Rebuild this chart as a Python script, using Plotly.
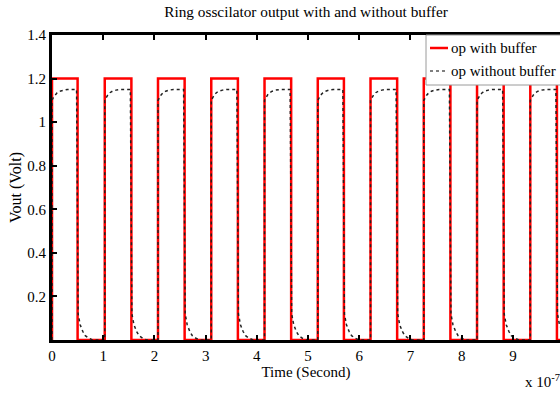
import plotly.graph_objects as go

# ---- data (time in units of 1e-7 s, voltage in V) ----
rise_times = [0.00, 1.03, 2.07, 3.11, 4.15, 5.19, 6.22, 7.26, 8.30, 9.34]
fall_times = [0.50, 1.55, 2.59, 3.63, 4.67, 5.70, 6.74, 7.78, 8.82, 9.86]
high_buffer = 1.2

# shape of one pulse of the unbuffered output (offset from rising edge, volts)
rise_offsets = [0.00, 0.00, 0.03, 0.06, 0.10, 0.15, 0.22, 0.30]
rise_values = [0.00, 1.10, 1.115, 1.125, 1.135, 1.142, 1.147, 1.15]
# shape after falling edge (offset from red falling edge, volts)
fall_offsets = [-0.02, 0.01, 0.05, 0.10, 0.15, 0.22, 0.30]
fall_values = [1.15, 0.12, 0.07, 0.04, 0.02, 0.008, 0.0]

x_ticks = [0, 1, 2, 3, 4, 5, 6, 7, 8, 9]
y_ticks = [0.2, 0.4, 0.6, 0.8, 1.0, 1.2, 1.4]
y_tick_text = ["0.2", "0.4", "0.6", "0.8", "1", "1.2", "1.4"]

# ---- build traces ----
xr, yr = [], []
for r, f in zip(rise_times, fall_times):
    xr += [r, r, f, f]
    yr += [0, high_buffer, high_buffer, 0]
xr.append(9.95)
yr.append(0)

xb, yb = [], []
for r, f in zip(rise_times, fall_times):
    xb += [r + o for o in rise_offsets]
    yb += rise_values
    xb += [f + o for o in fall_offsets]
    yb += fall_values
xb.append(9.95)
yb.append(0)

FONT = "Liberation Serif"

fig = go.Figure()
fig.add_trace(go.Scatter(x=xr, y=yr, mode="lines", name="op with buffer",
                         line=dict(color="#ff0000", width=2.5), showlegend=False))
fig.add_trace(go.Scatter(x=xb, y=yb, mode="lines", name="op without buffer",
                         line=dict(color="#222222", width=1.5, dash="dot"), showlegend=False))

# legend box (drawn to match the original placement)
lx0 = (426 - 52) / 508
ly0 = (340 - 85) / 305
fig.add_shape(type="rect", xref="paper", yref="paper", x0=lx0, x1=1.02, y0=ly0, y1=1,
              line=dict(color="#9a9a9a", width=1), fillcolor="white", layer="above")
legend_items = [("op with buffer", dict(color="#ff0000", width=2.5), 48),
                ("op without buffer", dict(color="#555555", width=1.5, dash="dot"), 71)]
for label, ln, py in legend_items:
    yp = (340 - py) / 305
    fig.add_shape(type="line", xref="paper", yref="paper",
                  x0=(430 - 52) / 508, x1=(448 - 52) / 508, y0=yp, y1=yp,
                  line=ln, layer="above")
    fig.add_annotation(xref="paper", yref="paper", x=(449 - 52) / 508, y=yp,
                       text=label, showarrow=False, xanchor="left", yanchor="middle",
                       font=dict(family=FONT, size=15, color="black"))

fig.add_annotation(xref="paper", yref="paper", x=(523 - 52) / 508, y=(340 - 381) / 305,
                   text="x 10<sup>-7</sup>", showarrow=False, xanchor="left",
                   yanchor="middle", font=dict(family=FONT, size=15, color="black"))

fig.update_layout(
    width=560, height=393,
    margin=dict(l=52, r=0, t=35, b=53),
    paper_bgcolor="white", plot_bgcolor="white",
    font=dict(family=FONT, size=15, color="black"),
    title=dict(text="Ring osscilator output with and without buffer",
               x=0.5, xref="paper", y=1 - 12 / 393, yanchor="middle",
               font=dict(family=FONT, size=15.3, color="black")),
    xaxis=dict(range=[0, 9.92], tickvals=x_ticks, ticks="inside", ticklen=5,
               tickwidth=1.5, tickcolor="black", showline=True, linewidth=3,
               linecolor="black", mirror="ticks", showgrid=False, zeroline=False,
               tickfont=dict(family=FONT, size=15),
               title=dict(text="Time (Second)", standoff=4,
                          font=dict(family=FONT, size=15))),
    yaxis=dict(range=[0, 1.4], tickvals=y_ticks, ticktext=y_tick_text,
               ticks="inside", ticklen=5, tickwidth=1.5, tickcolor="black",
               showline=True, linewidth=3, linecolor="black", showgrid=False,
               zeroline=False, tickfont=dict(family=FONT, size=15),
               title=dict(text="Vout (Volt)", standoff=2,
                          font=dict(family=FONT, size=16))),
)

fig.write_html("out.html", config={"displayModeBar": False},
               post_script="document.body.style.margin='0';document.body.style.overflow='hidden';")
